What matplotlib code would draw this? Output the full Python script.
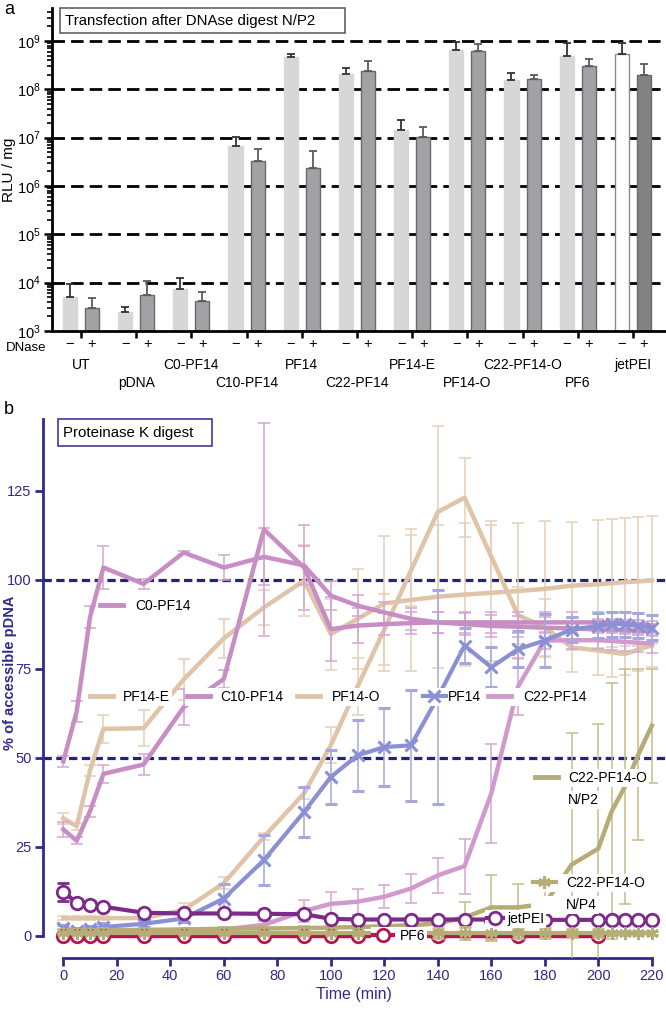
import numpy as np
import matplotlib
matplotlib.use("Agg")
import matplotlib.pyplot as plt
from matplotlib.lines import Line2D
from matplotlib.patches import Rectangle

plt.rcParams['font.family'] = ['Liberation Sans', 'DejaVu Sans']
plt.rcParams['mathtext.default'] = 'regular'

# ---------------- Panel a data ----------------
groups = ["UT", "pDNA", "C0-PF14", "C10-PF14", "PF14", "C22-PF14", "PF14-E",
          "PF14-O", "C22-PF14-O", "PF6", "jetPEI"]
minus_vals = [5000, 2450, 7300, 6.8e6, 4.7e8, 2.1e8, 1.45e7, 6.6e8, 1.55e8, 4.8e8, 5.4e8]
minus_caps = [9300, 3200, 12700, 1.05e7, 5.3e8, 2.7e8, 2.3e7, 9.5e8, 2.2e8, 9.0e8, 9.2e8]
plus_vals = [3000, 5500, 4200, 3.3e6, 2.4e6, 2.4e8, 1.02e7, 6.2e8, 1.63e8, 3.0e8, 2.0e8]
plus_caps = [4800, 10800, 6400, 5.9e6, 5.2e6, 3.8e8, 1.7e7, 8.5e8, 2.0e8, 4.2e8, 3.3e8]
dnase_labels = ["\u2212", "+"]
ytick_vals_a = [1e3, 1e4, 1e5, 1e6, 1e7, 1e8, 1e9]

# ---------------- Panel b data ----------------
T = [0, 5, 10, 15, 30, 45, 60, 75, 90, 100, 110, 120, 130, 140, 150, 160, 170,
     180, 190, 200, 205, 210, 215, 220]
c0_pf14 = [49, 63, 89.5, 103.4, 98.8, 107.6, 103.4, 106.4, 104, 95.5, 92.7, 90.8, 89,
           88, 87.5, 87, 86.8, 86.5, 86.3, 86, 86, 85.8, 85.6, 85.5]
c0_err = [1.5, 3, 3, 6, 1.5, 0.5, 3.5, 8, 5.5, 4, 3, 3, 3, 3, 3, 3, 3, 3, 3, 3, 3, 3, 3, 3]
c10_pf14 = [29.9, 26.7, 35, 45.5, 48.1, 64.2, 72.1, 114.1, 103.4, 86.1, 87.1, 87.5, 87.8,
            88, 88, 88, 88, 88, 88, 88, 88, 87.8, 87.5, 87.2]
c10_err = [2, 1, 1.5, 2.5, 3, 5, 2.5, 30, 12, 9, 5, 3, 3, 3, 3, 3, 3, 3, 3, 3, 3, 3, 3, 3]
pf14_e = [33, 30.8, 46.5, 58.1, 58.3, 72, 83.5, 92.2, 99.7, 84.7, 89, 93.3, 94.3, 95.2,
          95.8, 96.3, 96.8, 97.4, 98.3, 98.7, 99, 99.3, 99.5, 99.8]
pf14_e_err = [1.5, 1, 1.5, 4, 5, 5.7, 5.5, 5, 10, 10, 14, 19, 20, 20, 20, 19, 19, 19,
              18, 18, 18, 18, 18, 18]
pf14_o = [5, 5, 5, 5, 5, 7.3, 14.8, 27.8, 40, 53.5, 70, 86, 102.6, 119, 123, 106.4, 90,
          86.6, 81, 80.1, 79.6, 79.1, 80.4, 81.5]
pf14_o_err = [0.5, 0.5, 0.5, 0.5, 0.8, 2, 1.6, 1, 1.5, 5, 8, 10, 10, 24, 11, 10, 8, 8,
              7, 7, 7, 6, 6, 6]
pf14 = [2.1, 1.5, 2, 2.5, 3.4, 4.9, 10.5, 21.3, 34.8, 44.6, 50.7, 53, 53.5, 67, 81.5,
        75.4, 80.5, 82.9, 86, 87, 87.5, 87.5, 87, 86.5]
pf14_err = [1, 0.8, 0.8, 1, 1, 1, 4, 7, 7, 7.6, 10, 11, 15.5, 30, 5, 5.6, 5, 7.5, 3.5,
            3.5, 3.5, 3.5, 3.5, 3.5]
c22_pf14 = [0.3, 0.3, 0.3, 0.5, 0.7, 1, 1.8, 3.1, 7, 9, 9.6, 11, 13.3, 17, 19.6, 40, 70,
            82.9, 83, 83, 82.8, 82.5, 82.3, 82]
c22_err = [0.3, 0.3, 0.3, 0.3, 0.3, 0.5, 0.8, 1, 3, 3.4, 3.7, 3.3, 4, 5, 7.7, 14, 8, 2.5,
           2.5, 2.5, 2.5, 2.5, 2.5, 2.5]
c22o_np2 = [1.5, 1.5, 1.5, 1.6, 1.7, 1.8, 2, 2.1, 2.2, 2.3, 2.5, 2.7, 3, 3.5, 5.2, 8, 8,
            9, 20, 24.5, 35, 42, 51, 59]
c22o_np2_err = [0.5, 0.5, 0.5, 0.5, 0.5, 0.5, 0.5, 0.5, 0.5, 0.5, 0.5, 0.5, 0.5, 0.5,
                4.4, 9, 6.5, 5, 37, 35, 36, 33, 24, 16]
c22o_np4 = [0.8, 0.8, 0.8, 0.8, 0.8, 0.8, 0.8, 0.8, 0.8, 0.8, 0.8, 0.8, 0.8, 0.8, 0.8,
            0.8, 0.8, 0.8, 0.8, 0.8, 0.8, 0.8, 0.8, 0.8]
c22o_np4_err = [0.3, 0.3, 0.3, 0.3, 0.3, 0.3, 0.3, 0.3, 0.3, 0.3, 0.5, 0.5, 0.5, 1.5,
                1.8, 2, 1.5, 1.5, 1, 1, 0.5, 0.5, 0.5, 0.5]
jetpei = [12.4, 9.3, 8.7, 8.2, 6.5, 6.3, 6.3, 6.2, 6.1, 4.8, 4.6, 4.6, 4.6, 4.6, 4.6,
          4.6, 4.6, 4.5, 4.5, 4.5, 4.5, 4.5, 4.5, 4.5]
jetpei_err = [2.5, 1, 1, 0.8, 0.8, 0.8, 0.8, 0.8, 0.8, 0.5, 0.5, 0.5, 0.5, 0.5, 0.5,
              0.5, 0.5, 0.5, 0.5, 0.5, 0.5, 0.5, 0.5, 0.5]
T_pf6 = [0, 5, 10, 15, 30, 45, 60, 75, 90, 100, 110, 120, 140, 170, 200]
pf6 = [0.1, 0.1, 0.1, 0.1, 0.1, 0.1, 0.1, 0.1, 0.1, 0.1, 0.1, 0.1, 0.1, 0.1, 0.1]
pf6_err = [0.3] * 15
xticks_b = [0, 20, 40, 60, 80, 100, 120, 140, 160, 180, 200, 220]
yticks_b = [0, 25, 50, 75, 100, 125]

W, H = 666, 1011
fig = plt.figure(figsize=(W / 100, H / 100), dpi=100)

def fx(px):
    return px / W

def fy(py):
    return 1 - py / H

def box(x0, y0, x1, y1, ec):
    fig.add_artist(Rectangle((fx(x0), fy(y1)), fx(x1 - x0), (y1 - y0) / H,
                             transform=fig.transFigure, fc='white', ec=ec, lw=1.1,
                             zorder=8))

# ================= Panel a =================
axa = fig.add_axes([fx(52), fy(331), fx(666 - 52), (331 - 8) / H])
axa.set_yscale('log')
axa.set_ylim(1e3, 10 ** 9.683)
axa.set_xlim(-0.525, 10.6)
x = np.arange(len(groups))
off = 0.2
bw = 0.255
light = ['#d7d7d7'] * 10 + ['#ffffff']
light_edge = ['#d7d7d7'] * 10 + ['#8a8a8a']
dark = ['#a2a2a6'] * 10 + ['#828282']
for v in ytick_vals_a[1:]:
    axa.axhline(v, color='black', lw=2.0, ls=(0, (4.5, 2.2)), zorder=1)
axa.bar(x - off, minus_vals, width=bw, color=light, edgecolor=light_edge, lw=1.0, zorder=2)
axa.bar(x + off, plus_vals, width=bw, color=dark, edgecolor='#6a6a6a', lw=1.0, zorder=2)
mv = np.array(minus_vals); pv = np.array(plus_vals)
axa.errorbar(x - off, mv, yerr=[np.zeros_like(mv), np.array(minus_caps) - mv], fmt='none',
             ecolor='#333333', elinewidth=1.3, capsize=3.2, capthick=1.3, zorder=3)
axa.errorbar(x + off, pv, yerr=[np.zeros_like(pv), np.array(plus_caps) - pv], fmt='none',
             ecolor='#5a5a5a', elinewidth=1.3, capsize=3.2, capthick=1.3, zorder=3)
for s in ['top', 'right']:
    axa.spines[s].set_visible(False)
for s in ['left', 'bottom']:
    axa.spines[s].set_linewidth(2.0)
    axa.spines[s].set_color('black')
axa.set_yticks(ytick_vals_a)
axa.tick_params(axis='y', which='major', length=6, width=1.8, labelsize=10.5, pad=2)
axa.tick_params(axis='y', which='minor', length=3.5, width=1.2)
bar_pos = []
bar_lab = []
for i in range(len(groups)):
    bar_pos += [i - off, i + off]
    bar_lab += dnase_labels
axa.set_xticks(bar_pos)
axa.set_xticklabels(bar_lab, fontsize=10.5)
axa.set_xticks(x, minor=True)
axa.tick_params(axis='x', which='major', length=0, pad=4)
axa.tick_params(axis='x', which='minor', length=5, width=1.8)
axa.set_ylabel('RLU / mg', fontsize=11)
axa.yaxis.set_label_coords(-0.058, 0.5)
trans = axa.get_xaxis_transform()
axa.text(-0.62, -0.054, 'DNase', transform=trans, ha='right', va='center', fontsize=9.5)
for i, name in enumerate(groups):
    yy = -0.105 if i % 2 == 0 else -0.161
    axa.text(i, yy, name, transform=trans, ha='center', va='center', fontsize=10)
box(60, 8, 345, 33, '#555555')
fig.text(fx(65), fy(20.5), 'Transfection after DNAse digest N/P2', ha='left',
         va='center', fontsize=10.8, zorder=9)
fig.text(fx(4), fy(10), 'a', fontsize=13, ha='left', va='center')

# ================= Panel b =================
navy = '#2e2b8c'
axb = fig.add_axes([fx(42.7), fy(958), fx(666 - 42.7), (958 - 419.3) / H])
axb.set_xlim(-7.7, 225.3)
axb.set_ylim(-6.2, 145)
for s in ['top', 'right']:
    axb.spines[s].set_visible(False)
axb.spines['left'].set_bounds(0, 145)
axb.spines['bottom'].set_bounds(0, 220)
for s in ['left', 'bottom']:
    axb.spines[s].set_linewidth(2.0)
    axb.spines[s].set_color(navy)
axb.set_xticks(xticks_b)
axb.set_yticks(yticks_b)
axb.tick_params(colors=navy, labelcolor=navy, length=6, width=2, labelsize=10.5, pad=2)
for v in [50, 100]:
    axb.axhline(v, color='#232377', lw=2.3, ls=(0, (2.6, 1.4)), zorder=1)

pink = '#c78ec3'
pink_e = '#d6a6d3'
pink2 = '#d09bcc'
tan = '#e0c4a8'
tan_e = '#e6cfb8'
blue = '#8b8fd3'
blue_e = '#a5a8dd'
olive = '#b5ad75'
olive_e = '#c4bd8c'
purple = '#7d2a8a'
crimson = '#b3174f'

def series(t, y, e, color, ecolor, lw=3.2, z=2, **kw):
    axb.errorbar(t, y, yerr=e, color=color, ecolor=ecolor, lw=lw, elinewidth=1.1,
                 capsize=4.5, capthick=1.1, zorder=z, **kw)

series(T, pf14_e, pf14_e_err, tan, tan_e, z=2)
series(T, pf14_o, pf14_o_err, tan, tan_e, z=2)
series(T, c0_pf14, c0_err, pink, pink_e, z=3)
series(T, c10_pf14, c10_err, pink, pink_e, z=3)
series(T, c22_pf14, c22_err, pink2, pink_e, z=3)
series(T, pf14, pf14_err, blue, blue_e, lw=3.0, z=3.5, marker='x', ms=9, mew=2.2)
series(T, c22o_np2, c22o_np2_err, olive, olive_e, z=3.6)
series(T_pf6, pf6, pf6_err, crimson, crimson, lw=3.2, z=3.7, marker='o', ms=9,
       mfc='white', mec=crimson, mew=2)
series(T, jetpei, jetpei_err, purple, purple, lw=3.0, z=3.8, marker='o', ms=9,
       mfc='white', mec=purple, mew=2)
series(T, c22o_np4, c22o_np4_err, olive, olive_e, lw=3.0, z=3.9, marker=(6, 2, 0),
       ms=9, mew=2)

axb.set_xlabel('Time (min)', color=navy, fontsize=11.5, labelpad=3)
axb.set_ylabel('% of accessible pDNA', color=navy, fontsize=10.5, fontweight='bold')
axb.yaxis.set_label_coords(-0.042, 0.529)
box(58, 419, 212, 446, navy)
fig.text(fx(63), fy(432.5), 'Proteinase K digest', ha='left', va='center',
         fontsize=10.8, zorder=9)
fig.text(fx(4), fy(410), 'b', fontsize=13, ha='left', va='center')

def leg(handle, label, xp, yp, pad=0.75, hl=1.7, fs=10):
    lg = axb.legend([handle], [label], loc='center left',
                    bbox_to_anchor=(fx(xp), fy(yp)), bbox_transform=fig.transFigure,
                    frameon=True, framealpha=1, facecolor='white', edgecolor='none',
                    fontsize=fs, handlelength=hl, handletextpad=pad, borderpad=0.12,
                    borderaxespad=0, fancybox=False)
    lg.set_zorder(7)
    axb.add_artist(lg)

h_pink = Line2D([], [], color=pink, lw=3.5)
h_tan = Line2D([], [], color=tan, lw=3.5)
h_pink2 = Line2D([], [], color=pink2, lw=3.5)
h_blue = Line2D([], [], color=blue, lw=3.0, marker='x', ms=9, mew=2.2)
h_olive = Line2D([], [], color=olive, lw=3.5)
h_olive4 = Line2D([], [], color=olive, lw=3.0, marker=(6, 2, 0), ms=9, mew=2)
h_jet = Line2D([], [], color=purple, lw=3.0, marker='o', ms=9, mfc='white', mew=2)
h_pf6 = Line2D([], [], color=crimson, lw=3.0, marker='o', ms=9, mfc='white', mew=2)
h_none = Line2D([], [], color='none')

leg(h_pink, 'C0-PF14', 98, 606, pad=0.84)
leg(h_tan, 'PF14-E', 88, 697, pad=0.7)
leg(h_pink, 'C10-PF14', 185, 697, pad=0.7)
leg(h_tan, 'PF14-O', 295, 697, pad=0.84)
leg(h_pink2, 'C22-PF14', 486, 697, pad=0.84)
leg(h_blue, 'PF14', 421, 697, pad=0.12)
leg(h_olive, 'C22-PF14-O', 533, 778, pad=0.7)
leg(h_none, 'N/P2', 533, 800, pad=0.7)
leg(h_olive4, 'C22-PF14-O', 531, 883, pad=0.7)
leg(h_none, 'N/P4', 531, 905, pad=0.7)
leg(h_jet, 'jetPEI', 485, 919, pad=0.3, hl=1.2)
leg(h_pf6, 'PF6', 371, 936, pad=0.5, hl=1.45)

fig.savefig('out.png', dpi=100)
